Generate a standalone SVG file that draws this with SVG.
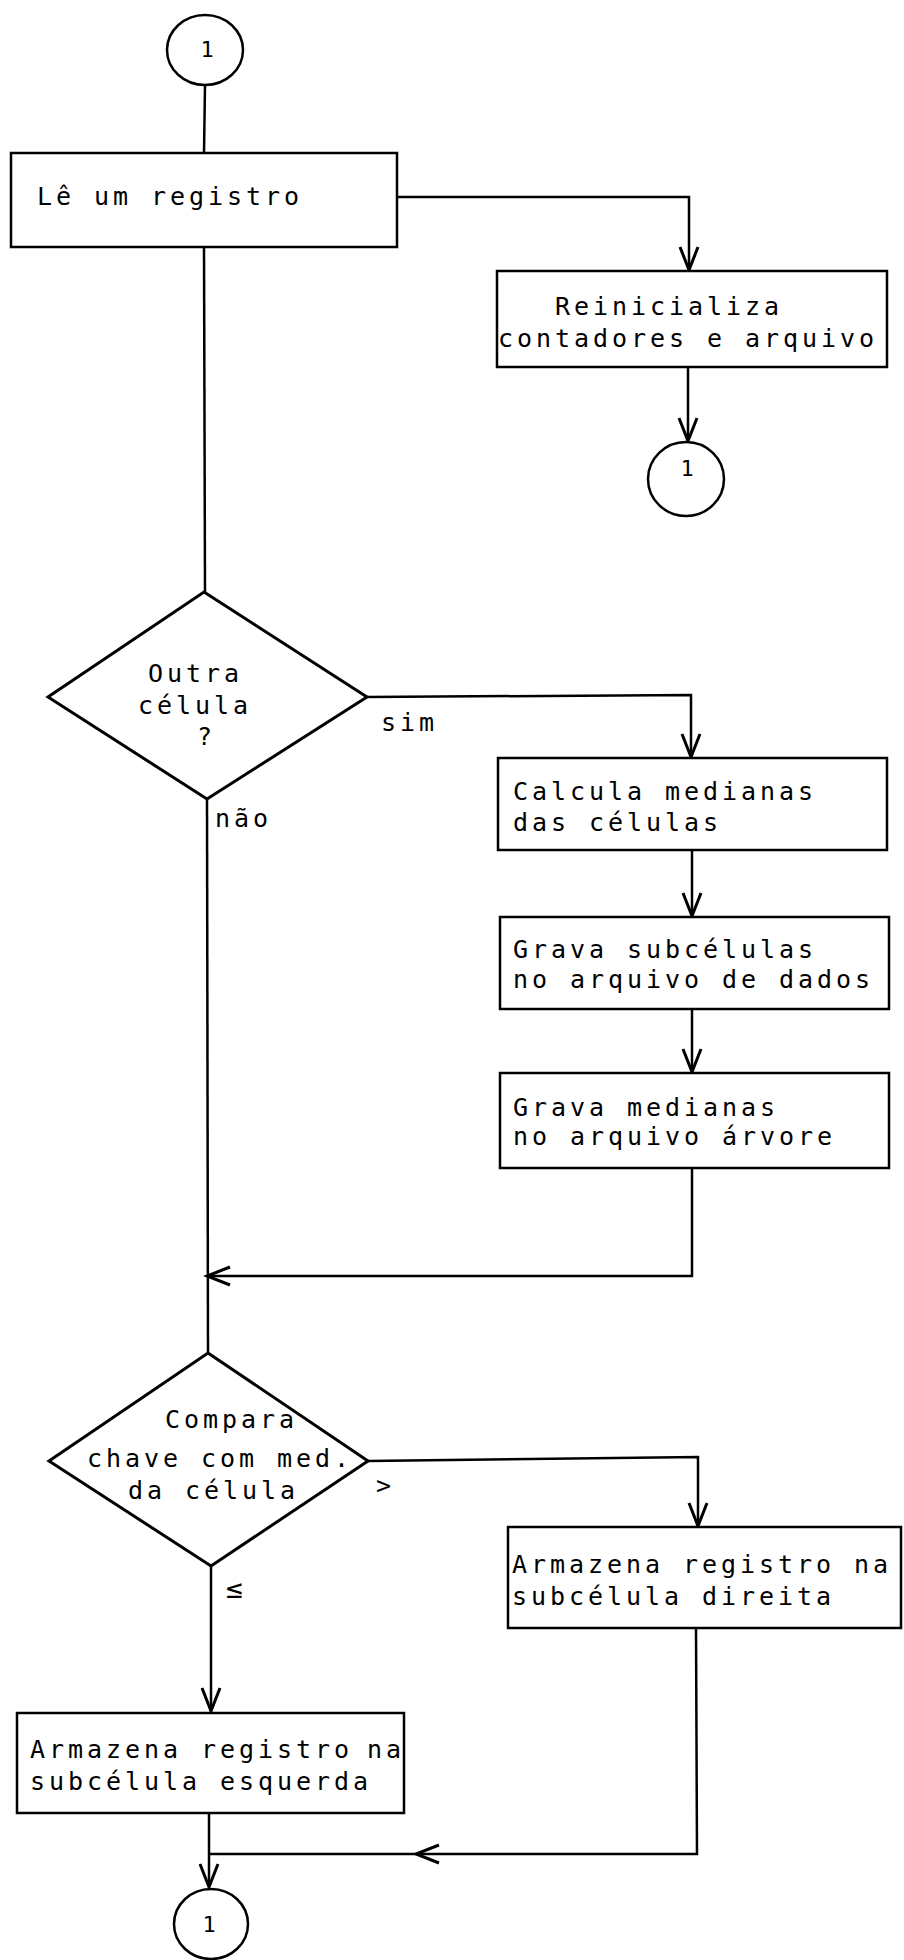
<svg xmlns="http://www.w3.org/2000/svg" width="904" height="1960" viewBox="0 0 904 1960">
<style>
.box{fill:#fff;stroke:#000;stroke-width:2.5}
.dia{fill:#fff;stroke:#000;stroke-width:3}
.con{fill:none;stroke:#000;stroke-width:2.5}
.t{font-family:"DejaVu Sans Mono","Liberation Mono",monospace;font-size:25px;letter-spacing:3.95px;fill:#000}
.n{font-family:"DejaVu Sans Mono","Liberation Mono",monospace;font-size:22px;fill:#000;text-anchor:middle}
</style>
<defs>
<marker id="arr" markerUnits="userSpaceOnUse" markerWidth="30" markerHeight="24" refX="0" refY="0" viewBox="-26 -12 30 24" orient="auto">
<path d="M -23 -9 L 0 0 L -23 9" fill="none" stroke="#000" stroke-width="3"/>
</marker>
</defs>
<rect width="904" height="1960" fill="#fff"/>
<g id="connectors">
<path class="con" d="M 205 85 L 204 153"/>
<path class="con" d="M 204 247 L 205 592"/>
<path class="con" d="M 397 197 L 689 197 L 689 270" marker-end="url(#arr)"/>
<path class="con" d="M 688 367 L 688 441" marker-end="url(#arr)"/>
<path class="con" d="M 367 697 L 691 695 L 691 757" marker-end="url(#arr)"/>
<path class="con" d="M 692 850 L 692 916" marker-end="url(#arr)"/>
<path class="con" d="M 692 1009 L 692 1072" marker-end="url(#arr)"/>
<path class="con" d="M 692 1168 L 692 1276 L 207 1276" marker-end="url(#arr)"/>
<path class="con" d="M 207 799 L 208 1353"/>
<path class="con" d="M 368 1461 L 698 1457 L 698 1526" marker-end="url(#arr)"/>
<path class="con" d="M 211 1566 L 211 1711" marker-end="url(#arr)"/>
<path class="con" d="M 696 1628 L 697 1854 L 416 1854" marker-end="url(#arr)"/>
<path class="con" d="M 416 1854 L 209 1854"/>
<path class="con" d="M 209 1813 L 209 1887" marker-end="url(#arr)"/>
</g>
<g id="start">
<ellipse cx="205" cy="50" rx="38" ry="35" class="box"/>
<text class="n" x="207" y="57">1</text>
</g>
<g id="le-registro">
<rect class="box" x="11" y="153" width="386" height="94"/>
<text class="t" x="37" y="205">Lê um registro</text>
</g>
<g id="reinicializa">
<rect class="box" x="497" y="271" width="390" height="96"/>
<text class="t" x="555" y="315">Reinicializa</text>
<text class="t" x="498" y="347">contadores e arquivo</text>
</g>
<g id="conn-1-mid">
<ellipse cx="686" cy="479" rx="38" ry="37" class="box"/>
<text class="n" x="687" y="476">1</text>
</g>
<g id="outra-celula">
<polygon class="dia" points="204,592 367,697 207,799 48,697"/>
<text class="t" x="148" y="682">Outra</text>
<text class="t" x="138" y="714">célula</text>
<text class="t" x="197" y="745">?</text>
</g>
<g id="label-sim"><text class="t" x="381" y="731">sim</text></g>
<g id="label-nao"><text class="t" x="215" y="827">não</text></g>
<g id="calcula">
<rect class="box" x="498" y="758" width="389" height="92"/>
<text class="t" x="513" y="800">Calcula medianas</text>
<text class="t" x="513" y="831">das células</text>
</g>
<g id="grava-sub">
<rect class="box" x="500" y="917" width="389" height="92"/>
<text class="t" x="513" y="958">Grava subcélulas</text>
<text class="t" x="513" y="988">no arquivo de dados</text>
</g>
<g id="grava-med">
<rect class="box" x="500" y="1073" width="389" height="95"/>
<text class="t" x="513" y="1116">Grava medianas</text>
<text class="t" x="513" y="1145">no arquivo árvore</text>
</g>
<g id="compara">
<polygon class="dia" points="208,1353 368,1461 211,1566 49,1461"/>
<text class="t" x="165" y="1428">Compara</text>
<text class="t" x="87" y="1467">chave com med.</text>
<text class="t" x="128" y="1499">da célula</text>
</g>
<g id="label-gt"><text class="t" x="376" y="1494">&gt;</text></g>
<g id="label-le"><text class="t" x="226" y="1598" style="font-size:28px">≤</text></g>
<g id="armazena-direita">
<rect class="box" x="508" y="1527" width="393" height="101"/>
<text class="t" x="512" y="1573">Armazena registro na</text>
<text class="t" x="512" y="1605">subcélula direita</text>
</g>
<g id="armazena-esquerda">
<rect class="box" x="17" y="1713" width="387" height="100"/>
<text class="t" x="30" y="1758">Armazena registro</text>
<text class="t" x="367" y="1758">na</text>
<text class="t" x="30" y="1790">subcélula esquerda</text>
</g>
<g id="end">
<ellipse cx="211" cy="1924" rx="37" ry="35" class="box"/>
<text class="n" x="209" y="1932">1</text>
</g>
</svg>
